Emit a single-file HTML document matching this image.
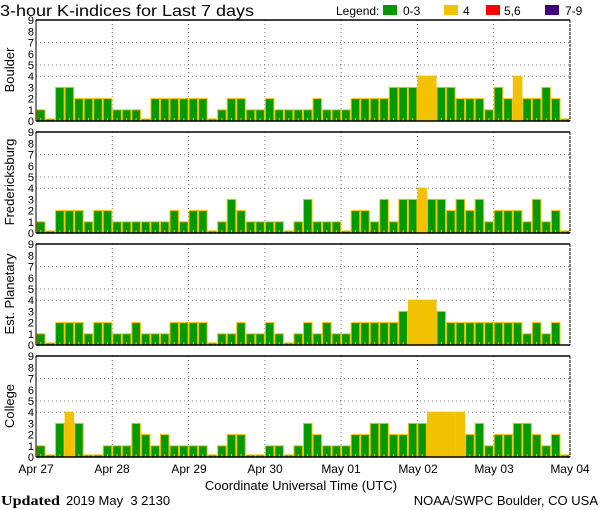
<!DOCTYPE html>
<html><head><meta charset="utf-8"><style>
html,body{margin:0;padding:0;background:#fff;width:600px;height:510px;overflow:hidden}
svg{display:block}
text{font-family:"Liberation Sans",sans-serif;fill:#000}
</style></head><body>
<svg id="s" width="600" height="510" xmlns="http://www.w3.org/2000/svg">
<text x="0" y="16" font-size="16" textLength="254" lengthAdjust="spacingAndGlyphs">3-hour K-indices for Last 7 days</text>
<text x="336" y="15" font-size="12">Legend:</text>
<rect x="383" y="5" width="14" height="10" fill="#009900"/><text x="403" y="15" font-size="12">0-3</text>
<rect x="444" y="5" width="14" height="10" fill="#f2c200"/><text x="463" y="15" font-size="12">4</text>
<rect x="486" y="5" width="14" height="10" fill="#ff0000"/><text x="504" y="15" font-size="12">5,6</text>
<rect x="545" y="5" width="14" height="10" fill="#400080"/><text x="565" y="15" font-size="12">7-9</text>
<g id="panels"></g>
<text x="36" y="473" font-size="12" text-anchor="middle">Apr 27</text>
<text x="112" y="473" font-size="12" text-anchor="middle">Apr 28</text>
<text x="189" y="473" font-size="12" text-anchor="middle">Apr 29</text>
<text x="265" y="473" font-size="12" text-anchor="middle">Apr 30</text>
<text x="341" y="473" font-size="12" text-anchor="middle">May 01</text>
<text x="418" y="473" font-size="12" text-anchor="middle">May 02</text>
<text x="494" y="473" font-size="12" text-anchor="middle">May 03</text>
<text x="570" y="473" font-size="12" text-anchor="middle">May 04</text>
<text x="301" y="490" font-size="13" text-anchor="middle">Coordinate Universal Time (UTC)</text>
<text x="1" y="505" font-size="14" font-weight="bold" textLength="59" lengthAdjust="spacingAndGlyphs" style="font-family:'Liberation Serif',serif">Updated</text>
<text x="66" y="505" font-size="13" style="white-space:pre">2019 May  3 2130</text>
<text x="598" y="505" font-size="13" text-anchor="end">NOAA/SWPC Boulder, CO USA</text>
</svg>
<script>
var D=[
["Boulder",20,[1,0,3,3,2,2,2,2,1,1,1,0,2,2,2,2,2,2,0,1,2,2,1,1,2,1,1,1,1,2,1,1,1,2,2,2,2,3,3,3,4,4,3,3,2,2,2,1,3,2,4,2,2,3,2,0]],
["Fredericksburg",132,[1,0,2,2,2,1,2,2,1,1,1,1,1,1,2,1,2,2,0,1,3,2,1,1,1,1,0,1,3,1,1,1,0,2,2,1,3,1,3,3,4,3,3,2,3,2,3,1,2,2,2,1,3,1,2,0]],
["Est. Planetary",244,[1,0,2,2,2,1,2,2,1,1,2,1,1,1,2,2,2,2,0,1,1,2,1,1,2,1,0,1,2,1,2,1,1,2,2,2,2,2,3,4,4,4,3,2,2,2,2,2,2,2,2,1,2,1,2,-1]],
["College",356,[1,0,3,4,3,0,0,1,1,1,3,2,1,2,1,1,1,1,0,1,2,2,0,0,1,1,0,1,3,2,1,1,1,2,2,3,3,2,2,3,3,4,4,4,4,2,3,1,2,2,3,3,2,1,2,0]]];
var g=document.getElementById('panels'),h='',L=36,R=570,W=(R-L)/56,U=11.2;
D.forEach(function(p){
 var t=p[1],b=t+101,cy=t+50;
 h+='<text font-size="13" text-anchor="middle" transform="translate(14,'+cy+') rotate(-90)">'+p[0]+'</text>';
 for(var k=0;k<=9;k++)h+='<text x="34" y="'+(b-k*U+4)+'" font-size="11" text-anchor="end">'+k+'</text>';
 [4,5,7].forEach(function(k){h+='<line x1="'+L+'" x2="'+R+'" y1="'+(b-k*U)+'" y2="'+(b-k*U)+'" stroke="#777" stroke-dasharray="1,3"/>';});
 for(var d=1;d<7;d++){var x=L+d*8*W;h+='<line x1="'+x+'" x2="'+x+'" y1="'+t+'" y2="'+b+'" stroke="#777" stroke-dasharray="1,3"/>';}
 p[2].forEach(function(v,i){
  if(v<0)return;
  var x=L+i*W,hh=v==0?2:v*U,c=v>=4?'#f2c200':'#009900';
  h+='<rect x="'+(x+0.5).toFixed(2)+'" y="'+(b-hh).toFixed(2)+'" width="'+(W-1).toFixed(2)+'" height="'+hh.toFixed(2)+'" fill="'+c+'" stroke="#f5c000" stroke-width="1"/>';
  h+='<rect x="'+(x+W/2-0.5).toFixed(2)+'" y="'+(b-3)+'" width="1" height="3" fill="#f5c000"/>';
 });
 h+='<line x1="'+L+'" x2="'+R+'" y1="'+t+'" y2="'+t+'" stroke="#000" stroke-width="1.5"/>';
 h+='<line x1="'+L+'" x2="'+R+'" y1="'+b+'" y2="'+b+'" stroke="#000" stroke-width="1.5"/>';
 h+='<line x1="'+L+'" x2="'+L+'" y1="'+t+'" y2="'+b+'" stroke="#000" stroke-width="1"/>';
 h+='<line x1="'+R+'" x2="'+R+'" y1="'+t+'" y2="'+b+'" stroke="#000" stroke-width="1" stroke-dasharray="3,1"/>';
});
g.innerHTML=h;
</script>
</body></html>
